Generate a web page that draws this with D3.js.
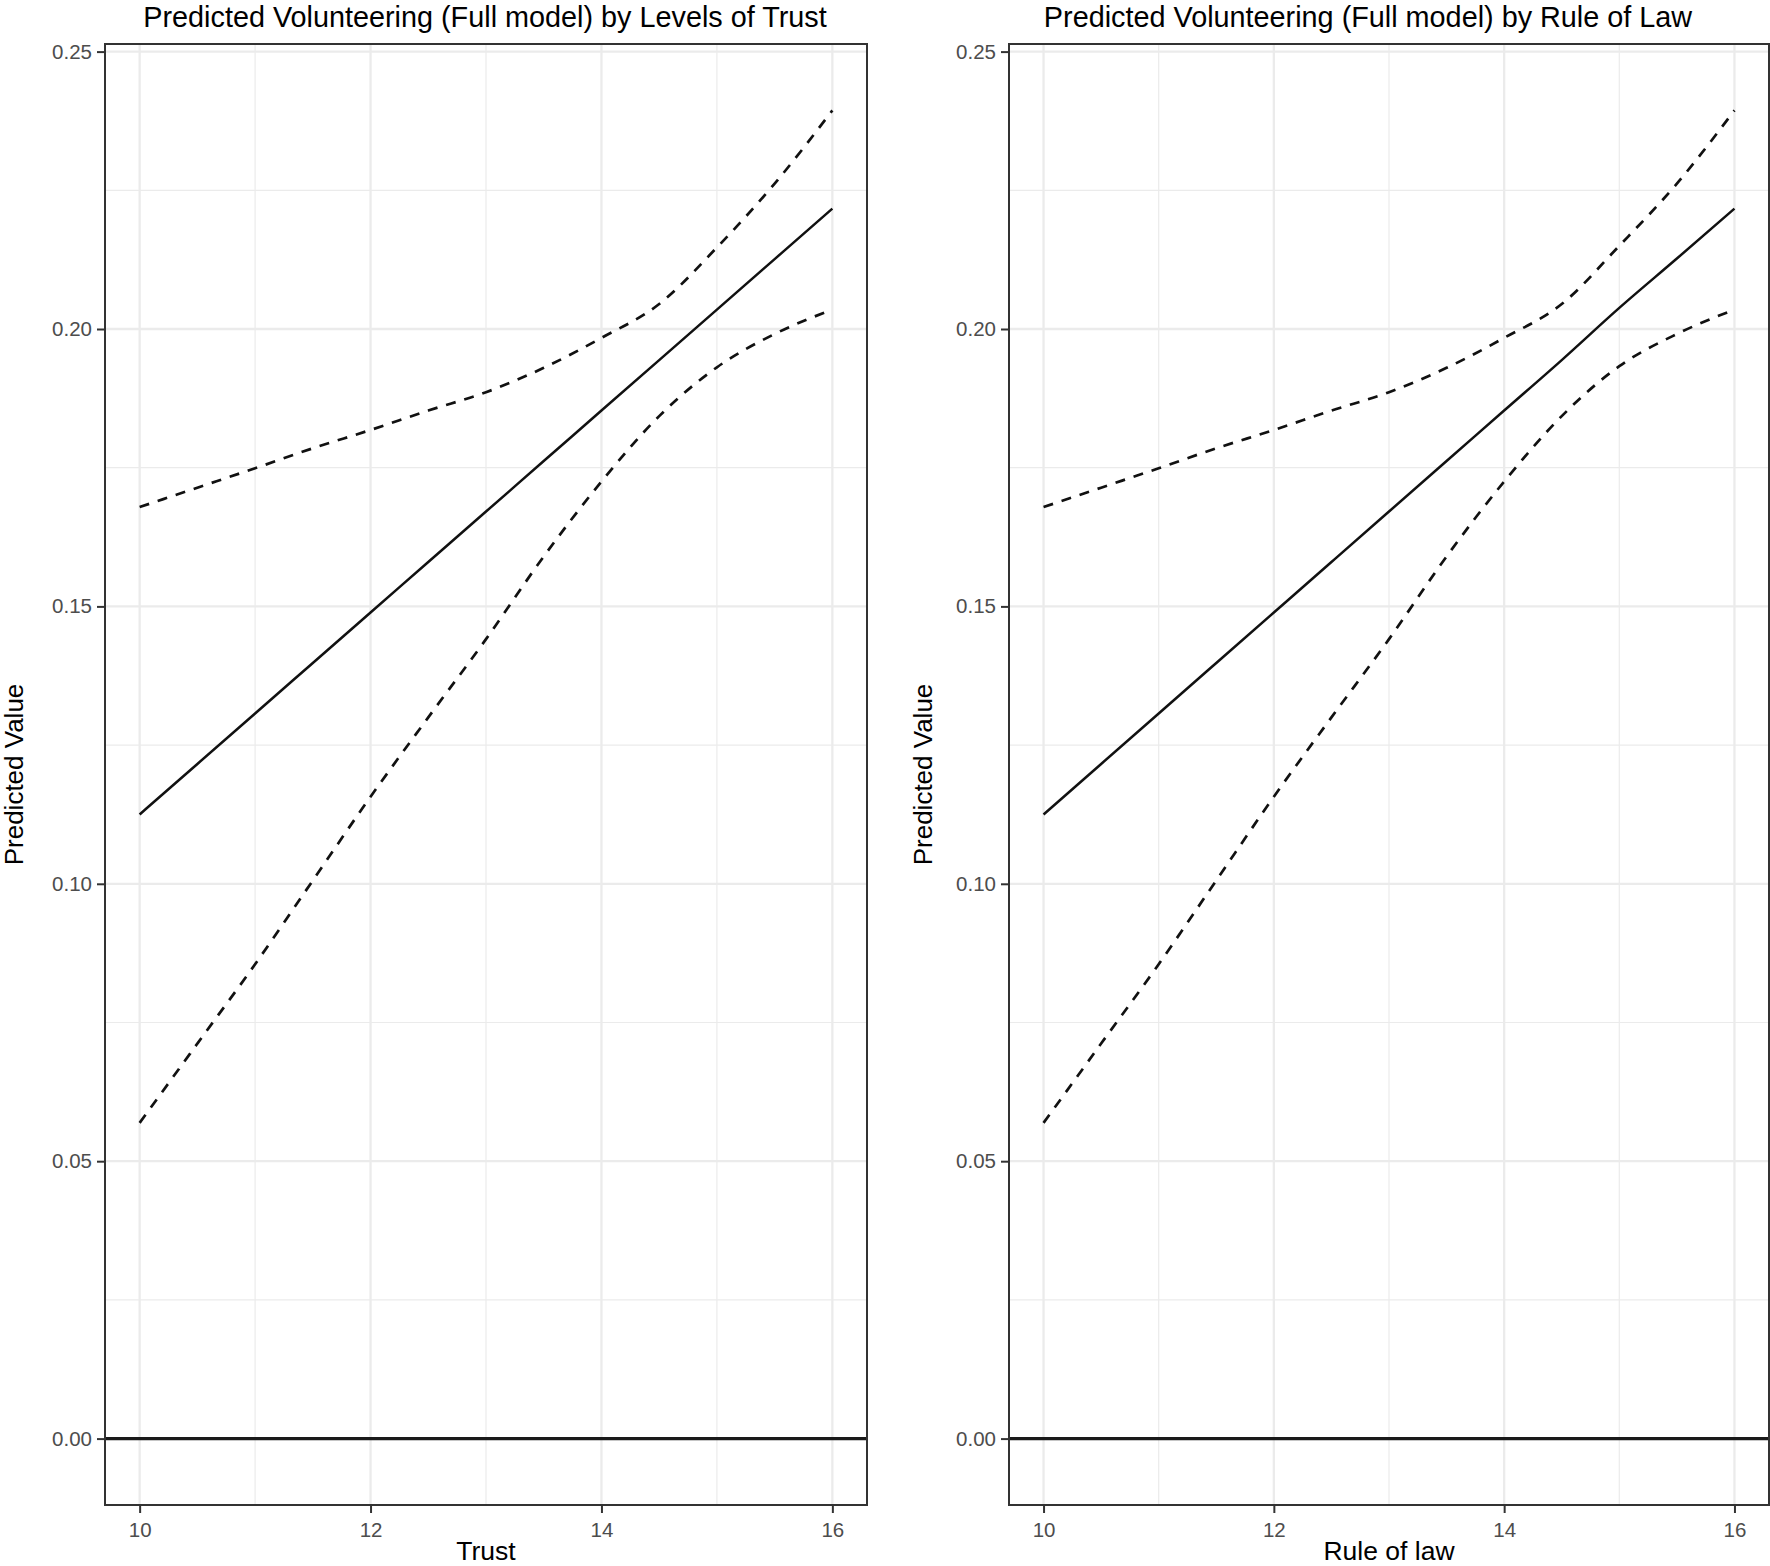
<!DOCTYPE html>
<html>
<head>
<meta charset="utf-8">
<script src="https://cdn.jsdelivr.net/npm/d3@7"></script>
<style>
  body { margin: 0; background: #fff; }
  text { font-family: "Liberation Sans", Arial, Helvetica, sans-serif; }
</style>
</head>
<body>
<div id="chart"></div>
<script>
// values
var xTicks = [10, 12, 14, 16];
var xMinor = [11, 13, 15];
var yTicks = [0, 0.05, 0.10, 0.15, 0.20, 0.25];
var yMinor = [0.025, 0.075, 0.125, 0.175, 0.225];

var xValues = [10, 10.5, 11, 11.5, 12, 12.5, 13, 13.5, 14, 14.5, 15, 15.5, 16];

// panel 1: trust
var trustFit   = [0.1125, 0.1216, 0.1307, 0.1398, 0.1489, 0.1580, 0.1671, 0.1762, 0.1853, 0.1944, 0.2035, 0.2126, 0.2217];
var trustUpper = [0.1679, 0.1714, 0.1749, 0.1785, 0.1818, 0.1853, 0.1886, 0.1930, 0.1984, 0.2045, 0.2147, 0.2262, 0.2394];
var trustLower = [0.0569, 0.0712, 0.0855, 0.1006, 0.1157, 0.1300, 0.1441, 0.1590, 0.1725, 0.1843, 0.1931, 0.1991, 0.2035];

// panel 2: rule of law
var lawFit   = [0.1125, 0.1216, 0.1307, 0.1398, 0.1489, 0.1580, 0.1671, 0.1762, 0.1853, 0.1944, 0.2038, 0.2127, 0.2217];
var lawUpper = [0.1679, 0.1714, 0.1749, 0.1785, 0.1818, 0.1853, 0.1886, 0.1930, 0.1984, 0.2045, 0.2150, 0.2262, 0.2394];
var lawLower = [0.0569, 0.0712, 0.0855, 0.1006, 0.1157, 0.1300, 0.1441, 0.1590, 0.1725, 0.1843, 0.1933, 0.1991, 0.2035];

var refLine = 0;

var width = 1770;
var height = 1566;

var panels = [
  { title: "Predicted Volunteering (Full model) by Levels of Trust", xlab: "Trust",
    fit: trustFit, upper: trustUpper, lower: trustLower,
    left: 105, right: 867, titleX: 485, ylabX: 23 },
  { title: "Predicted Volunteering (Full model) by Rule of Law", xlab: "Rule of law",
    fit: lawFit, upper: lawUpper, lower: lawLower,
    left: 1009, right: 1769, titleX: 1368, ylabX: 932 }
];

var plotTop = 44, plotBottom = 1505;

var svg = d3.select("#chart").append("svg")
    .attr("width", width)
    .attr("height", height);

panels.forEach(function (p) {
  var allY = p.upper.concat(p.lower, p.fit, [refLine]);
  var yMin = d3.min(allY), yMax = d3.max(allY);
  var yPad = (yMax - yMin) * 0.05;
  var xMin = d3.min(xValues), xMax = d3.max(xValues);
  var xPad = (xMax - xMin) * 0.05;

  var x = d3.scaleLinear().domain([xMin - xPad, xMax + xPad]).range([p.left, p.right]);
  var y = d3.scaleLinear().domain([yMin - yPad, yMax + yPad]).range([plotBottom, plotTop]);

  var g = svg.append("g");

  // grid
  g.selectAll(".ymin").data(yMinor).enter().append("line")
    .attr("x1", p.left).attr("x2", p.right)
    .attr("y1", function (d) { return y(d); }).attr("y2", function (d) { return y(d); })
    .attr("stroke", "#ebebeb").attr("stroke-width", 1.2);
  g.selectAll(".xmin").data(xMinor).enter().append("line")
    .attr("y1", plotTop).attr("y2", plotBottom)
    .attr("x1", function (d) { return x(d); }).attr("x2", function (d) { return x(d); })
    .attr("stroke", "#ebebeb").attr("stroke-width", 1.2);
  g.selectAll(".ymaj").data(yTicks).enter().append("line")
    .attr("x1", p.left).attr("x2", p.right)
    .attr("y1", function (d) { return y(d); }).attr("y2", function (d) { return y(d); })
    .attr("stroke", "#ebebeb").attr("stroke-width", 2.3);
  g.selectAll(".xmaj").data(xTicks).enter().append("line")
    .attr("y1", plotTop).attr("y2", plotBottom)
    .attr("x1", function (d) { return x(d); }).attr("x2", function (d) { return x(d); })
    .attr("stroke", "#ebebeb").attr("stroke-width", 2.3);

  // horizontal reference at zero
  g.append("line")
    .attr("x1", p.left).attr("x2", p.right)
    .attr("y1", y(refLine)).attr("y2", y(refLine))
    .attr("stroke", "#1a1a1a").attr("stroke-width", 3.2);

  var line = d3.line()
    .x(function (d, i) { return x(xValues[i]); })
    .y(function (d) { return y(d); })
    .curve(d3.curveMonotoneX);

  g.append("path").attr("d", line(p.upper))
    .attr("fill", "none").attr("stroke", "#111").attr("stroke-width", 2.7)
    .attr("stroke-dasharray", "10,9");
  g.append("path").attr("d", line(p.lower))
    .attr("fill", "none").attr("stroke", "#111").attr("stroke-width", 2.7)
    .attr("stroke-dasharray", "10,9");
  g.append("path").attr("d", line(p.fit))
    .attr("fill", "none").attr("stroke", "#111").attr("stroke-width", 2.5);

  // border
  g.append("rect")
    .attr("x", p.left).attr("y", plotTop)
    .attr("width", p.right - p.left).attr("height", plotBottom - plotTop)
    .attr("fill", "none").attr("stroke", "#333").attr("stroke-width", 2);

  // axes
  var xAxis = d3.axisBottom(x).tickValues(xTicks).tickSize(8).tickPadding(9)
    .tickFormat(d3.format("d"));
  var ax = g.append("g").attr("transform", "translate(0," + plotBottom + ")").call(xAxis);
  var yAxis = d3.axisLeft(y).tickValues(yTicks).tickSize(8).tickPadding(5)
    .tickFormat(d3.format(".2f"));
  var ay = g.append("g").attr("transform", "translate(" + p.left + ",0)").call(yAxis);

  [ax, ay].forEach(function (a) {
    a.select(".domain").remove();
    a.selectAll(".tick line").attr("stroke", "#333").attr("stroke-width", 2);
    a.selectAll(".tick text").attr("fill", "#4d4d4d")
      .style("font-size", "20.5px")
      .style("font-family", "'Liberation Sans', Arial, sans-serif");
  });

  // titles
  g.append("text")
    .attr("x", p.titleX).attr("y", 27)
    .attr("text-anchor", "middle")
    .style("font-size", "28.8px")
    .attr("fill", "#000")
    .text(p.title);

  g.append("text")
    .attr("x", (p.left + p.right) / 2).attr("y", 1560)
    .attr("text-anchor", "middle")
    .style("font-size", "26.5px")
    .attr("fill", "#000")
    .text(p.xlab);

  g.append("text")
    .attr("transform", "translate(" + p.ylabX + "," + ((plotTop + plotBottom) / 2) + ") rotate(-90)")
    .attr("text-anchor", "middle")
    .style("font-size", "26px")
    .attr("fill", "#000")
    .text("Predicted Value");
});
</script>
</body>
</html>
